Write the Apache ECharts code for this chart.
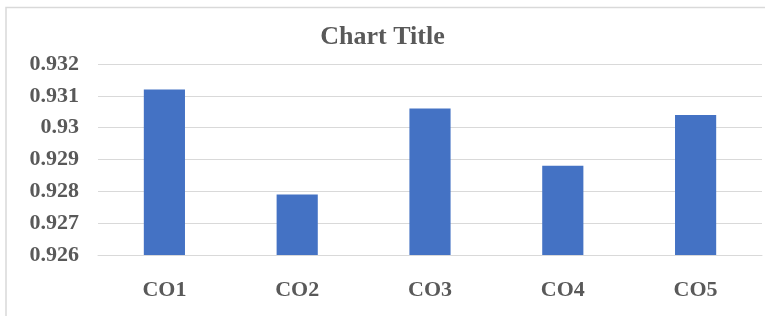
<!DOCTYPE html>
<html>
	<head>
		<meta charset="utf-8">
		<title></title>
		<script src="https://cdn.jsdelivr.net/npm/echarts@6/dist/echarts.min.js"></script>
		<style>
			body { margin: 0; background: #fff; }
		</style>
	</head>
	<body>
		<div id="main" style="width: 765px; height: 316px;"></div>
		<script type="text/javascript">
			// data
			var categories = ['CO1', 'CO2', 'CO3', 'CO4', 'CO5'];
			var values = [0.9312, 0.9279, 0.9306, 0.9288, 0.9304];

			var myCharts = echarts.init(document.getElementById("main"));
			var font = '"Liberation Serif", "Times New Roman", serif';
			option = {
			  animation: false,
			  title: {
			    text: 'Chart Title',
			    left: 'center',
			    top: 19,
			    textStyle: { fontFamily: font, fontSize: 26, fontWeight: 'bold', color: '#595959' }
			  },
			  graphic: [{
			    type: 'polyline',
			    shape: { points: [[6, 316], [6, 7.5], [765, 7.5]] },
			    style: { stroke: '#d9d9d9', lineWidth: 1.5, fill: null }
			  }],
			  grid: { left: 98, right: 3, top: 64, bottom: 61 },
			  xAxis: {
			    type: 'category',
			    data: categories,
			    axisTick: { show: false },
			    axisLine: { lineStyle: { color: '#d9d9d9' } },
			    axisLabel: { margin: 24, fontFamily: font, fontSize: 22, fontWeight: 'bold', color: '#595959' }
			  },
			  yAxis: {
			    type: 'value',
			    min: 0.926,
			    max: 0.932,
			    interval: 0.001,
			    axisLine: { show: false },
			    axisTick: { show: false },
			    splitLine: { lineStyle: { color: '#d9d9d9' } },
			    axisLabel: {
			      margin: 19, fontFamily: font, fontSize: 22, fontWeight: 'bold', color: '#595959',
			      formatter: function (v) { return String(parseFloat(v.toFixed(4))); }
			    }
			  },
			  series: [{
			    type: 'bar',
			    data: values,
			    barWidth: '31%',
			    itemStyle: { color: '#4472C4' }
			  }]
			};
			myCharts.setOption(option);
		</script>
	</body>
</html>
